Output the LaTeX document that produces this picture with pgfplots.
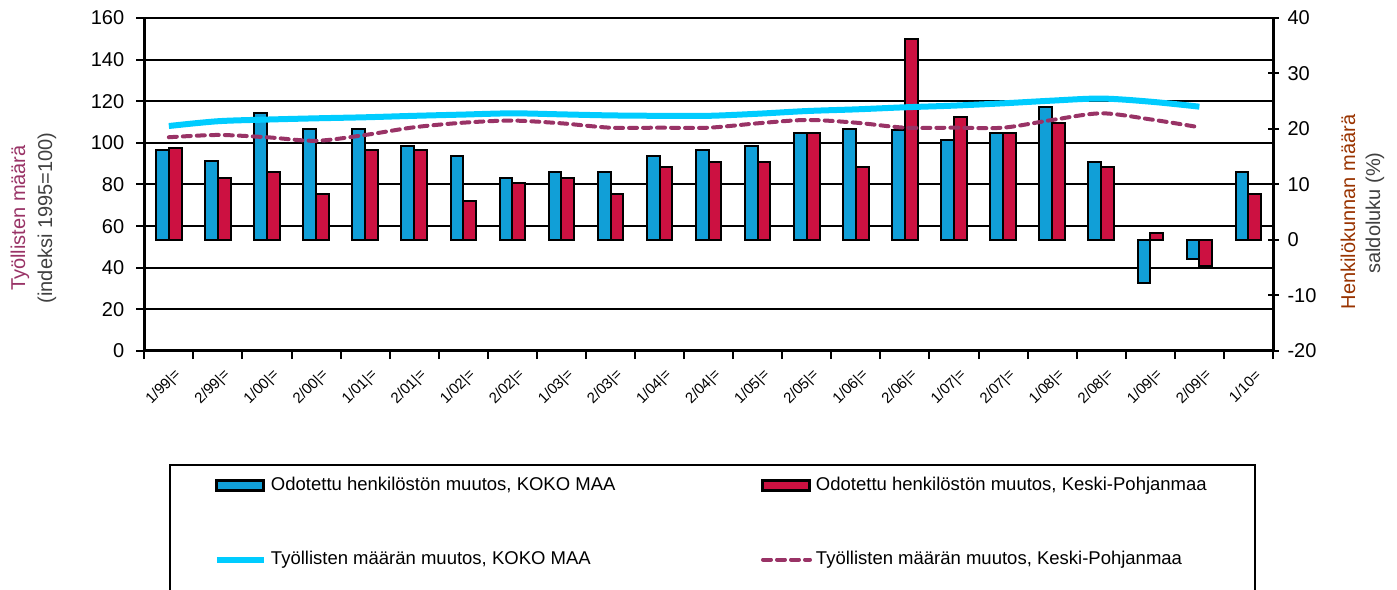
\documentclass[border=0pt]{standalone}
\usepackage{fontspec}
\setmainfont{Liberation Sans}
\usepackage{pgfplots}
\pgfplotsset{compat=1.18}
\definecolor{barblue}{HTML}{119FD7}
\definecolor{barred}{HTML}{CC1141}
\definecolor{linecyan}{HTML}{00CCFF}
\definecolor{plum}{HTML}{993366}
\definecolor{labone}{HTML}{993366}
\definecolor{labtwo}{HTML}{993300}
\definecolor{labgray}{HTML}{404040}
\pgfplotsset{
 common/.style={scale only axis, width=564.35pt, height=166.5pt, xmin=-0.5, xmax=22.5,
   /pgf/number format/assume math mode=true},
 barleg/.style={legend image code/.code={\draw[##1] (0pt,-2.5pt) rectangle (23.5pt,2.5pt);}},
 lineleg/.style={legend image code/.code={\draw[##1] (0pt,0pt) -- (23.5pt,0pt);}},
}
\begin{document}
\begin{tikzpicture}
\path[use as bounding box] (-72.15pt,-119pt) rectangle (626.35pt,175.5pt);
% Axis 1: grid, x axis, left axis
\begin{axis}[common, ymin=0, ymax=160, ytick={0,20,...,160}, ymajorgrids,
  grid style={black, line width=1pt},
  axis x line*=bottom, axis y line*=left, axis line style={line width=1.5pt, -},
  tick style={line width=1pt, black}, tick align=outside, major tick length=4pt,
  yticklabel style={font=\fontsize{10}{12}\selectfont, xshift=-2.5pt},
  xtick={-0.5,0.5,...,22.5}, xticklabels={},
  extra x ticks={0,1,...,22},
  extra x tick labels={1/99|=,2/99|=,1/00|=,2/00|=,1/01|=,2/01|=,1/02|=,2/02|=,1/03|=,2/03|=,1/04|=,2/04|=,1/05|=,2/05|=,1/06|=,2/06|=,1/07|=,2/07|=,1/08|=,2/08|=,1/09|=,2/09|=,1/10=},
  extra x tick style={major tick length=0pt, grid=none},
  xticklabel style={rotate=45, anchor=east, font=\fontsize{7.5}{9}\selectfont, inner sep=0pt, yshift=-11pt, xshift=-4pt},
]
\addplot[draw=none] coordinates {(0,0)};
\end{axis}
% Axis 2: bars on right axis
\begin{axis}[common, ymin=-20, ymax=40, ytick={-20,-10,...,40}, xtick=\empty,
  axis x line=none, axis y line*=right, axis line style={line width=1.5pt, -},
  tick style={line width=1pt, black}, tick align=center, major tick length=5.5pt,
  yticklabel style={font=\fontsize{10}{12}\selectfont, xshift=1pt},
  ybar, bar width=0.26]
\addplot[fill=barblue, draw=black, line width=1pt, bar shift=-0.13] coordinates {
(0,16.2) (1,14.2) (2,22.9) (3,20.0) (4,20.0) (5,17.0) (6,15.2) (7,11.1) (8,12.2) (9,12.2)
(10,15.2) (11,16.3) (12,17.0) (13,19.2) (14,20.0) (15,19.9) (16,18.1) (17,19.2) (18,24.0)
(19,14.1) (20,-7.7) (21,-3.5) (22,12.2)};
\addplot[fill=barred, draw=black, line width=1pt, bar shift=0.13] coordinates {
(0,16.6) (1,11.1) (2,12.2) (3,8.2) (4,16.2) (5,16.2) (6,7.1) (7,10.2) (8,11.1) (9,8.2)
(10,13.1) (11,14.1) (12,14.1) (13,19.2) (14,13.1) (15,36.2) (16,22.2) (17,19.2) (18,21.1)
(19,13.1) (20,1.2) (21,-4.7) (22,8.2)};
\end{axis}
% Axis 3: lines and legend
\begin{axis}[common, ymin=0, ymax=160, hide axis,
  legend columns=2, legend cell align=left,
  legend style={at={(0.02188,-0.3393)}, anchor=north west, draw=black, line width=1pt,
    inner xsep=22pt, inner ysep=4pt, font=\fontsize{9.25}{11}\selectfont,
    /tikz/every even column/.append style={column sep=0pt}, row sep=25pt}]
\addlegendimage{barleg, fill=barblue, draw=black, line width=1.5pt}
\addlegendentry{\makebox[243pt][l]{Odotettu henkilöstön muutos, KOKO MAA}}
\addlegendimage{barleg, fill=barred, draw=black, line width=1.5pt}
\addlegendentry{Odotettu henkilöstön muutos, Keski-Pohjanmaa}
\addplot[linecyan, line width=3pt, smooth, tension=0.5, lineleg] coordinates {
(0,108.1) (1,110.4) (2,111.2) (3,111.8) (4,112.3) (5,113.0) (6,113.6) (7,114.2) (8,113.7)
(9,113.2) (10,113.0) (11,113.0) (12,114.0) (13,115.3) (14,116.1) (15,117.1) (16,117.9)
(17,119.0) (18,120.3) (19,121.3) (20,119.8) (21,117.4)};
\addlegendentry{Työllisten määrän muutos, KOKO MAA}
\addplot[plum, line width=2pt, dash pattern=on 4pt off 3pt, line cap=round, smooth, tension=0.5, lineleg] coordinates {
(0,102.7) (1,103.8) (2,102.7) (3,101.0) (4,103.8) (5,107.5) (6,109.7) (7,110.7) (8,109.4)
(9,107.3) (10,107.3) (11,107.3) (12,109.4) (13,111.0) (14,109.7) (15,107.3) (16,107.3)
(17,107.3) (18,111.0) (19,114.2) (20,111.3) (21,107.5)};
\addlegendentry{Työllisten määrän muutos, Keski-Pohjanmaa}
\addlegendimage{empty legend}\addlegendentry{}
\addlegendimage{empty legend}\addlegendentry{}
\end{axis}
\node[rotate=90, font=\fontsize{10}{12}\selectfont, text=labone] at (-62.15pt,66.5pt) {Työllisten määrä};
\node[rotate=90, font=\fontsize{10}{12}\selectfont, text=labgray] at (-48.65pt,66.5pt) {(indeksi 1995=100)};
\node[rotate=90, font=\fontsize{10}{12}\selectfont, text=labtwo] at (601.85pt,69.5pt) {Henkilökunnan määrä};
\node[rotate=90, font=\fontsize{10}{12}\selectfont, text=labgray] at (615.35pt,69pt) {saldoluku (\%)};
\end{tikzpicture}
\end{document}
